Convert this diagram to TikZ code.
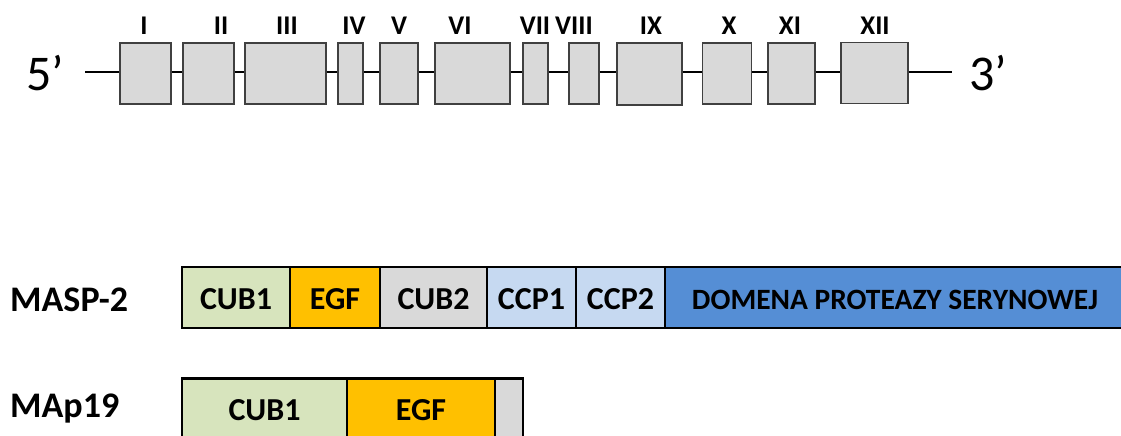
\documentclass[tikz,border=0pt]{standalone}
\usepackage{fontspec}
\setmainfont{Carlito}
\usepackage{tikz}
\usetikzlibrary{positioning}
\definecolor{exonGrey}{HTML}{D9D9D9}
\definecolor{exonLine}{HTML}{404040}
\definecolor{cubGreen}{HTML}{D7E4BD}
\definecolor{egfOrange}{HTML}{FFC000}
\definecolor{cubGrey}{HTML}{D9D9D9}
\definecolor{ccpBlue}{HTML}{C6D9F1}
\definecolor{spBlue}{HTML}{558ED5}
\tikzset{
  exon/.style={rectangle, draw=exonLine, fill=exonGrey, line width=1.4pt, minimum height=61pt, inner sep=0pt},
  exonlabel/.style={font=\fontsize{27}{27}\selectfont\bfseries, anchor=south, inner sep=0pt},
  intron/.style={line width=2.6pt, draw=black},
  endlabel/.style={font=\fontsize{50}{50}\selectfont, inner sep=0pt},
  % --- protein domain styles ---
  domain/.style={rectangle, draw=black, fill=#1, line width=2.2pt, minimum height=61pt, inner sep=0pt, text height=23pt, text depth=0pt, font=\fontsize{32}{32}\selectfont\bfseries},
  protlabel/.style={font=\fontsize{36}{36}\selectfont\bfseries, anchor=base west, inner sep=0pt},
}

\begin{document}
\begin{tikzpicture}[x=1pt,y=-1pt]
  \useasboundingbox (0,0) rectangle (1121,436);

  % Gene: exons I-XII
  \node[endlabel] (five) at (45,73) {5’};
  \node[endlabel] (three) at (988,73) {3’};
  \coordinate (gstart) at (85,72);
  \coordinate (gend) at (952,72);

  \node[exon, minimum width=51pt] (ex1) at (145.5,73.5) {};
  \node[exon, minimum width=51pt] (ex2) at (208.5,73.5) {};
  \node[exon, minimum width=81pt] (ex3) at (285.5,73.5) {};
  \node[exon, minimum width=25pt] (ex4) at (350.5,73.5) {};
  \node[exon, minimum width=38pt] (ex5) at (399,73.5) {};
  \node[exon, minimum width=75pt] (ex6) at (472.5,73.5) {};
  \node[exon, minimum width=25pt] (ex7) at (535.5,73.5) {};
  \node[exon, minimum width=30pt] (ex8) at (584,73.5) {};
  \node[exon, minimum width=65pt, minimum height=62pt] (ex9) at (649.5,74) {};
  \node[exon, minimum width=49pt] (ex10) at (727,73.5) {};
  \node[exon, minimum width=47pt] (ex11) at (791.5,73.5) {};
  \node[exon, minimum width=67pt] (ex12) at (874.5,73) {};

  \draw[intron] (gstart) -- (gstart -| ex1.west);
  \foreach \a/\b in {1/2,2/3,3/4,4/5,5/6,6/7,7/8,8/9,9/10,10/11,11/12}
    \draw[intron] (gstart -| ex\a.east) -- (gstart -| ex\b.west);
  \draw[intron] (gstart -| ex12.east) -- (gend);

  \node[exonlabel] (lab1) at (144,35) {I};
  \node[exonlabel] (lab2) at (221,35) {II};
  \node[exonlabel] (lab3) at (287,35) {III};
  \node[exonlabel] (lab4) at (354,35) {IV};
  \node[exonlabel] (lab5) at (399,35) {V};
  \node[exonlabel] (lab6) at (460,35) {VI};
  \node[exonlabel] (lab7) at (535,35) {VII};
  \node[exonlabel] (lab8) at (574,35) {VIII};
  \node[exonlabel] (lab9) at (651,35) {IX};
  \node[exonlabel] (lab10) at (729,35) {X};
  \node[exonlabel] (lab11) at (790,35) {XI};
  \node[exonlabel] (lab12) at (875,35) {XII};

  % MASP-2 domains
  \node[protlabel] (masp) at (10,311) {MASP-2};
  \node[domain=cubGreen, minimum width=108pt] (cub1) at (236,297.5) {CUB1};
  \node[domain=egfOrange, minimum width=90pt] (egf) at (335,297.5) {EGF};
  \node[domain=cubGrey, minimum width=107pt] (cub2) at (433.5,297.5) {CUB2};
  \node[domain=ccpBlue, minimum width=89pt] (ccp1) at (531.5,297.5) {CCP1};
  \node[domain=ccpBlue, minimum width=89pt] (ccp2) at (620.5,297.5) {CCP2};
  \node[domain=spBlue, minimum width=460pt, font=\fontsize{29.5}{29.5}\selectfont\bfseries] (sp) at (895,297.5) {DOMENA PROTEAZY SERYNOWEJ};

  % MAp19 domains
  \node[protlabel] (map) at (10,417) {MAp19};
  \node[domain=cubGreen, minimum width=165pt] (mcub) at (264.5,409) {CUB1};
  \node[domain=egfOrange, minimum width=148pt] (megf) at (421,409) {EGF};
  \node[domain=cubGrey, minimum width=28pt] (mend) at (509,409) {};
\end{tikzpicture}
\end{document}
